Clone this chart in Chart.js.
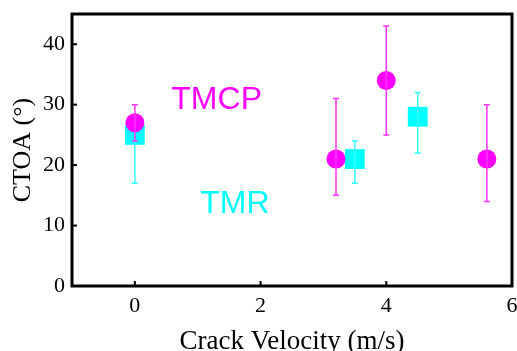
<!DOCTYPE html>
<html>
<head>
<meta charset="utf-8">
<script src="https://cdn.jsdelivr.net/npm/chart.js@4"></script>
<style>
  body{margin:0;overflow:hidden;background:#fff;}
  #wrap{width:517px;height:365px;position:relative;}
</style>
</head>
<body>
<div id="wrap"><canvas id="c"></canvas></div>
<script>
// TMCP series (magenta circles)
const tmcpX = [0, 3.2, 4, 5.6];
const tmcpY = [27, 21, 34, 21];
const tmcpLo = [24, 15, 25, 14];
const tmcpHi = [30, 31, 43, 30];

// TMR series (cyan squares)
const tmrX = [0, 3.5, 4.5];
const tmrY = [25, 21, 28];
const tmrLo = [17, 17, 22];
const tmrHi = [28, 24, 32];

const xTicks = [0, 2, 4, 6];
const yTicks = [0, 10, 20, 30, 40];

// text labels, in data units
const seriesLabels = [
  {text:'TMCP', x:0.58, y:29.3, color:'#ff00ff'},
  {text:'TMR', x:1.04, y:12.1, color:'#00ffff'}
];

const serif = 'Liberation Serif, Times New Roman, serif';

const errorBars = {
  id:'errorBars',
  afterDatasetDraw(chart, args){
    const ds = chart.data.datasets[args.index];
    if(!ds.lo) return;
    const ctx = chart.ctx, xs = chart.scales.x, ys = chart.scales.y;
    ctx.save();
    ctx.strokeStyle = ds.barColor;
    ctx.lineWidth = 1.5;
    ds.data.forEach((p,i)=>{
      const px = xs.getPixelForValue(p.x);
      const top = ys.getPixelForValue(ds.hi[i]);
      const bot = ys.getPixelForValue(ds.lo[i]);
      ctx.beginPath();
      ctx.moveTo(px,top); ctx.lineTo(px,bot);
      ctx.moveTo(px-3,top); ctx.lineTo(px+3,top);
      ctx.moveTo(px-3,bot); ctx.lineTo(px+3,bot);
      ctx.stroke();
    });
    ctx.restore();
  }
};

const frame = {
  id:'frame',
  afterDraw(chart){
    const ctx = chart.ctx, a = chart.chartArea;
    const xs = chart.scales.x, ys = chart.scales.y;
    ctx.save();
    ctx.strokeStyle = '#000';
    ctx.lineWidth = 2;
    xs.ticks.forEach(t=>{
      const px = xs.getPixelForValue(t.value);
      if(px<=a.left+2 || px>=a.right-2) return;
      ctx.beginPath(); ctx.moveTo(px,a.bottom); ctx.lineTo(px,a.bottom-5); ctx.stroke();
    });
    ys.ticks.forEach(t=>{
      const py = ys.getPixelForValue(t.value);
      if(py<=a.top+2 || py>=a.bottom-2) return;
      ctx.beginPath(); ctx.moveTo(a.left,py); ctx.lineTo(a.left+5,py); ctx.stroke();
    });
    ctx.lineWidth = 3;
    ctx.strokeRect(a.left, a.top, a.right-a.left, a.bottom-a.top);
    ctx.font = '32px Liberation Sans, Arial, sans-serif';
    ctx.textAlign = 'left';
    ctx.textBaseline = 'alphabetic';
    seriesLabels.forEach(l=>{
      ctx.fillStyle = l.color;
      ctx.fillText(l.text, xs.getPixelForValue(l.x), ys.getPixelForValue(l.y));
    });
    ctx.restore();
  }
};

new Chart(document.getElementById('c'), {
  type:'scatter',
  data:{
    datasets:[
      {
        label:'TMCP',
        data: tmcpX.map((x,i)=>({x:x, y:tmcpY[i]})),
        lo: tmcpLo, hi: tmcpHi,
        barColor:'#ff33ff',
        pointStyle:'circle',
        pointRadius:9.5,
        backgroundColor:'#ff00ff',
        borderWidth:0
      },
      {
        label:'TMR',
        data: tmrX.map((x,i)=>({x:x, y:tmrY[i]})),
        lo: tmrLo, hi: tmrHi,
        barColor:'#33ffff',
        pointStyle:'rect',
        pointRadius:14,
        backgroundColor:'#00ffff',
        borderWidth:0
      }
    ]
  },
  options:{
    responsive:true,
    maintainAspectRatio:false,
    animation:false,
    layout:{autoPadding:false, padding:{top:14, right:5, left:0, bottom:0}},
    plugins:{legend:{display:false}, tooltip:{enabled:false}},
    scales:{
      x:{
        type:'linear', min:-1, max:6,
        afterBuildTicks(s){ s.ticks = xTicks.map(v=>({value:v})); },
        afterFit(s){ s.height = 79; s.paddingLeft = 0; s.paddingRight = 0; },
        grid:{display:false, drawTicks:false},
        border:{display:false},
        ticks:{color:'#000', font:{family:serif, size:22}, padding:7, maxRotation:0},
        title:{display:true, text:'Crack Velocity (m/s)', color:'#000', font:{family:serif, size:27}, padding:{top:4, bottom:7}}
      },
      y:{
        type:'linear', min:0, max:45,
        afterBuildTicks(s){ s.ticks = yTicks.map(v=>({value:v})); },
        afterFit(s){ s.width = 72; s.paddingTop = 0; s.paddingBottom = 0; },
        grid:{display:false, drawTicks:false},
        border:{display:false},
        ticks:{color:'#000', font:{family:serif, size:22}, padding:7},
        title:{display:true, text:'CTOA (°)', color:'#000', font:{family:serif, size:26}, padding:{top:8, bottom:4}}
      }
    }
  },
  plugins:[errorBars, frame]
});
</script>
</body>
</html>
